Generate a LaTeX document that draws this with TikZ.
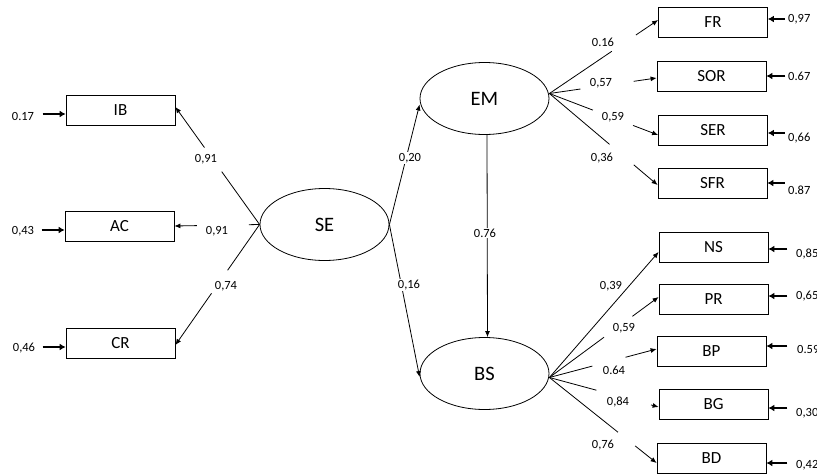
\documentclass[tikz,border=0pt]{standalone}
\usepackage{fontspec}
\setmainfont{Carlito}
\usetikzlibrary{shapes.geometric,calc,arrows.meta}
\newcommand\brokenlink[4]{%
  \draw[conn] (#1) -- ($(#1)!#3!(#2)$);
  \draw[tip] ($(#1)!#4!(#2)$) -- (#2);
}
\begin{document}
\begin{tikzpicture}[x=1pt,y=-1pt,
  box/.style={draw, line width=0.8pt, minimum width=109pt, minimum height=30pt, inner sep=0pt, font=\fontsize{17}{19}\selectfont},
  lat/.style={draw, ellipse, line width=0.8pt, minimum width=129pt, minimum height=72pt, inner sep=0pt, font=\fontsize{20.5}{24}\selectfont},
  lbl/.style={font=\fontsize{12.5}{14}\selectfont, inner sep=1pt},
  wlbl/.style={lbl, fill=white},
  conn/.style={line width=0.8pt},
  tip/.style={line width=0.8pt, -{Latex[length=6pt,width=5pt]}},
  err/.style={line width=2.2pt, -{Latex[length=6pt,width=7pt]}},
]
\useasboundingbox (0,0) rectangle (817,474);
% observed boxes
\node[box] (IB)  at (120.5,110) {IB};
\node[box] (AC)  at (119.5,226) {AC};
\node[box] (CR)  at (120.5,343) {CR};
\node[box] (FR)  at (713,22) {FR};
\node[box] (SOR) at (711.5,76) {SOR};
\node[box] (SER) at (713,130) {SER};
\node[box] (SFR) at (712.5,183) {SFR};
\node[box] (NS)  at (713.5,247) {NS};
\node[box] (PR)  at (713.5,299) {PR};
\node[box] (BP)  at (711.5,351) {BP};
\node[box] (BG)  at (713.5,404.5) {BG};
\node[box] (BD)  at (711.5,458) {BD};
% latent
\node[lat] (SE) at (324.5,224.5) {SE};
\node[lat] (EM) at (484.5,98.5) {EM};
\node[lat] (BS) at (484.5,373.5) {BS};
% origins and ends
\coordinate (emo) at ([yshift=5pt]EM.east);
\coordinate (bso) at ([yshift=-4pt]BS.east);
\coordinate (sel) at (SE.west);
\coordinate (eFR) at ([yshift=2pt]FR.west);
\coordinate (eSOR) at ([yshift=-2pt]SOR.west);
\coordinate (eSER) at ([yshift=-5pt]SER.west);
\coordinate (eSFR) at ([yshift=-2pt]SFR.west);
\coordinate (eNS) at ([yshift=-5pt]NS.west);
\coordinate (ePR) at ([yshift=2pt]PR.west);
\coordinate (eBP) at ([yshift=2pt]BP.west);
\coordinate (eBG) at ([yshift=-2.5pt]BG.west);
\coordinate (eBD) at ([yshift=-5pt]BD.west);
\coordinate (eIB) at ([yshift=3pt]IB.east);
\coordinate (eAC) at (AC.east);
\coordinate (eCR) at ([yshift=-2pt]CR.east);
% SE indicators
\brokenlink{sel}{eIB}{0.45}{0.655}
\brokenlink{sel}{eAC}{0.126}{0.736}
\brokenlink{sel}{eCR}{0.38}{0.571}
% EM indicators
\brokenlink{emo}{eFR}{0.574}{0.796}
\brokenlink{emo}{eSOR}{0.29}{0.785}
\brokenlink{emo}{eSER}{0.40}{0.77}
\brokenlink{emo}{eSFR}{0.556}{0.78}
% BS indicators
\draw[tip] (bso) -- (eNS);
\brokenlink{bso}{ePR}{0.5}{0.76}
\brokenlink{bso}{eBP}{0.40}{0.71}
\brokenlink{bso}{eBG}{0.43}{0.93}
\brokenlink{bso}{eBD}{0.64}{0.80}
% structural paths
\draw[tip] (SE.east) -- ([yshift=-6pt]EM.west);
\draw[tip] (SE.east) -- ([yshift=-3.5pt]BS.west);
\draw[tip] ([xshift=2.5pt]EM.south) -- ([xshift=3pt]BS.north);
\node[wlbl] (l1) at (410,158) {0,20};
\node[wlbl] (l2) at (409,285) {0,16};
\node[wlbl] (l3) at (485,233) {0.76};
% loading labels
\node[lbl] (a1) at (206,159) {0,91};
\node[lbl] (a2) at (217,231) {0,91};
\node[lbl] (a3) at (226,286) {0,74};
\node[lbl] (b1) at (603,42) {0.16};
\node[lbl] (b2) at (601,83) {0,57};
\node[lbl] (b3) at (613,117) {0,59};
\node[lbl] (b4) at (602,158) {0,36};
\node[lbl] (c1) at (611,286) {0,39};
\node[lbl] (c2) at (624,328) {0,59};
\node[lbl] (c3) at (614,370) {0.64};
\node[lbl] (c4) at (618,402) {0,84};
\node[lbl] (c5) at (603,445) {0,76};
% left errors
\node[lbl] (rIB) at (23,116) {0.17};
\node[lbl] (rAC) at (23,231) {0,43};
\node[lbl] (rCR) at (24,348) {0,46};
\draw[err] ([shift={(-23pt,-4pt)}]IB.west) -- ([yshift=-4pt]IB.west);
\draw[err] ([shift={(-23pt,-4pt)}]AC.west) -- ([yshift=-4pt]AC.west);
\draw[err] ([shift={(-23pt,-4pt)}]CR.west) -- ([yshift=-4pt]CR.west);
% right errors
\node[lbl,anchor=west] (rFR) at (787,19) {0,97};
\node[lbl,anchor=west] (rSOR) at (787,76) {0.67};
\node[lbl,anchor=west] (rSER) at (787,138) {0,66};
\node[lbl,anchor=west] (rSFR) at (787,190) {0.87};
\node[lbl,anchor=west] (rNS) at (795,254) {0,85};
\node[lbl,anchor=west] (rPR) at (795,296) {0,65};
\node[lbl,anchor=west] (rBP) at (796,349) {0.59};
\node[lbl,anchor=west] (rBG) at (795,413) {0,30};
\node[lbl,anchor=west] (rBD) at (795,465) {0,42};
\draw[err] ([shift={(17pt,3pt)}]FR.east) -- ([yshift=3pt]FR.east);
\draw[err] ([shift={(19pt,0pt)}]SOR.east) -- (SOR.east);
\draw[err] ([shift={(17pt,-3pt)}]SER.east) -- ([yshift=-3pt]SER.east);
\draw[err] ([shift={(17.5pt,0pt)}]SFR.east) -- (SFR.east);
\draw[err] ([shift={(19pt,-2pt)}]NS.east) -- ([yshift=-2pt]NS.east);
\draw[err] ([shift={(19pt,3pt)}]PR.east) -- ([yshift=3pt]PR.east);
\draw[err] ([shift={(21pt,5pt)}]BP.east) -- ([yshift=5pt]BP.east);
\draw[err] ([shift={(19pt,-3.5pt)}]BG.east) -- ([yshift=-3.5pt]BG.east);
\draw[err] ([shift={(21pt,-5pt)}]BD.east) -- ([yshift=-5pt]BD.east);
\end{tikzpicture}
\end{document}
